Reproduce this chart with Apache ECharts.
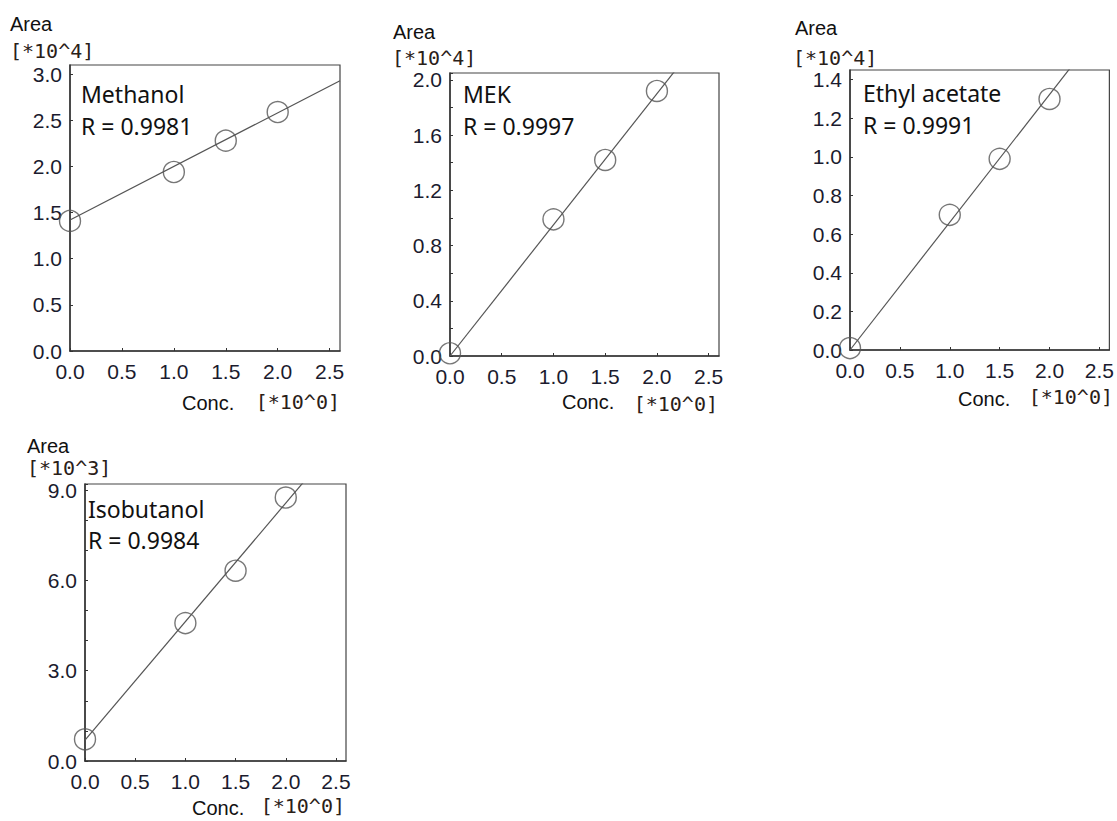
<!DOCTYPE html>
<html>
<head>
<meta charset="utf-8">
<script src="https://cdn.jsdelivr.net/npm/echarts@6/dist/echarts.min.js"></script>
<style>
html,body{margin:0;padding:0;background:#fff;}
#chart{width:1117px;height:821px;}
</style>
</head>
<body>
<div id="chart"></div>
<script>
// ---- data ----
const concLevels = [0.0, 1.0, 1.5, 2.0];
const methanolArea = [1.41, 1.94, 2.28, 2.59];       // x10^4
const mekArea = [0.02, 0.99, 1.42, 1.92];            // x10^4
const ethylAcetateArea = [0.01, 0.70, 0.99, 1.30];   // x10^4
const isobutanolArea = [0.72, 4.58, 6.32, 8.75];     // x10^3

const compoundNames = ['Methanol', 'MEK', 'Ethyl acetate', 'Isobutanol'];
const rValues = ['0.9981', '0.9997', '0.9991', '0.9984'];
const yScaleLabels = ['[*10^4]', '[*10^4]', '[*10^4]', '[*10^3]'];
const xScaleLabel = '[*10^0]';
const xTitle = 'Conc.';
const yTitle = 'Area';

// regression line values at Conc. = 0 and Conc. = 2.6
const fitX = [0, 2.6];
const fitStart = [1.42, 0.00, 0.00, 0.69];
const fitEnd = [2.93, 2.47, 1.72, 10.93];

// axis ranges
const xMax = 2.6;
const yMaxes = [3.1, 2.05, 1.45, 9.2];
const yIntervals = [0.5, 0.4, 0.2, 3.0];
const yMinorSplits = [0, 2, 0, 3];

const areaSeries = [methanolArea, mekArea, ethylAcetateArea, isobutanolArea];

// ---- layout ----
const grids = [
  {left: 70, top: 65, width: 270, height: 286},
  {left: 450, top: 73, width: 269, height: 283},
  {left: 850, top: 70, width: 265, height: 280},
  {left: 85, top: 484, width: 261, height: 277}
];

const tickFont = 'Liberation Sans';
const labelColor = '#1b1b2e';

const xAxes = grids.map((g, i) => ({
  type: 'value', gridIndex: i, min: 0, max: xMax, interval: 0.5,
  axisLine: {show: true, lineStyle: {color: '#333', width: 1.5}},
  axisTick: {show: true, inside: true, length: 3, lineStyle: {color: '#333'}},
  splitLine: {show: false},
  axisLabel: {
    show: true, showMaxLabel: false, margin: 10,
    fontFamily: tickFont, fontSize: 21, color: labelColor,
    formatter: v => v.toFixed(1)
  }
}));

const yAxes = grids.map((g, i) => ({
  type: 'value', gridIndex: i, min: 0, max: yMaxes[i], interval: yIntervals[i],
  axisLine: {show: true, lineStyle: {color: '#333', width: 1.5}},
  axisTick: {show: true, inside: true, length: 3, lineStyle: {color: '#333'}},
  minorTick: {show: yMinorSplits[i] > 0, splitNumber: yMinorSplits[i] || 5, length: 3, lineStyle: {color: '#333'}},
  splitLine: {show: false},
  axisLabel: {
    show: true, showMaxLabel: false, margin: 8,
    fontFamily: tickFont, fontSize: 21, lineHeight: 18, color: labelColor,
    formatter: v => v.toFixed(1)
  }
}));

const series = [];
areaSeries.forEach((vals, i) => {
  series.push({
    type: 'line', xAxisIndex: i, yAxisIndex: i,
    data: fitX.map((x, k) => [x, k === 0 ? fitStart[i] : fitEnd[i]]),
    showSymbol: false, symbol: 'none', clip: true, silent: true,
    lineStyle: {color: '#555', width: 1.2},
    z: 2
  });
  series.push({
    type: 'scatter', xAxisIndex: i, yAxisIndex: i,
    data: concLevels.map((c, k) => [c, vals[k]]),
    symbol: 'circle', symbolSize: 21, clip: false, silent: true,
    itemStyle: {color: 'rgba(0,0,0,0)', borderColor: '#555', borderWidth: 1.4},
    z: 3
  });
});

// text positions
const areaPos = [[10, 24], [393, 32], [795, 28], [27, 446]];
const yScalePos = [[10, 51], [392, 58], [793, 58], [27, 468]];
const concPos = [[182, 403], [562, 402], [958, 399], [192, 808]];
const xScalePos = [[340, 402], [718, 404], [1113, 397], [345, 806]];
const namePos = [[81, 94], [463, 94], [863, 93], [88, 509]];
const rPos = [[81, 126], [463, 126], [863, 125], [88, 540]];

const graphic = [];
for (let i = 0; i < 4; i++) {
  graphic.push({type: 'text', x: areaPos[i][0], y: areaPos[i][1], silent: true,
    style: {text: yTitle, font: '20px "Liberation Sans"', lineHeight: 20, fill: '#111', textVerticalAlign: 'middle'}});
  graphic.push({type: 'text', x: yScalePos[i][0], y: yScalePos[i][1], silent: true,
    style: {text: yScaleLabels[i], font: '20px "DejaVu Sans Mono"', lineHeight: 18, fill: '#2a2018', textVerticalAlign: 'middle'}});
  graphic.push({type: 'text', x: concPos[i][0], y: concPos[i][1], silent: true,
    style: {text: xTitle, font: '20px "Liberation Sans"', lineHeight: 20, fill: '#111', textVerticalAlign: 'middle'}});
  graphic.push({type: 'text', x: xScalePos[i][0], y: xScalePos[i][1], silent: true,
    style: {text: xScaleLabel, font: '20px "DejaVu Sans Mono"', lineHeight: 18, fill: '#2a2018', textAlign: 'right', textVerticalAlign: 'middle'}});
  graphic.push({type: 'text', x: namePos[i][0], y: namePos[i][1], silent: true,
    style: {text: compoundNames[i], font: '23px "Noto Sans"', fill: '#111', textVerticalAlign: 'middle'}});
  graphic.push({type: 'text', x: rPos[i][0], y: rPos[i][1], silent: true,
    style: {text: 'R = ' + rValues[i], font: '23px "Noto Sans"', fill: '#111', textVerticalAlign: 'middle'}});
}

const chart = echarts.init(document.getElementById('chart'), null, {renderer: 'svg'});
chart.setOption({
  animation: false,
  backgroundColor: '#fff',
  grid: grids.map(g => Object.assign({show: true, borderColor: '#444', borderWidth: 1.2, backgroundColor: 'transparent'}, g)),
  xAxis: xAxes,
  yAxis: yAxes,
  series: series,
  graphic: graphic
});
</script>
</body>
</html>
